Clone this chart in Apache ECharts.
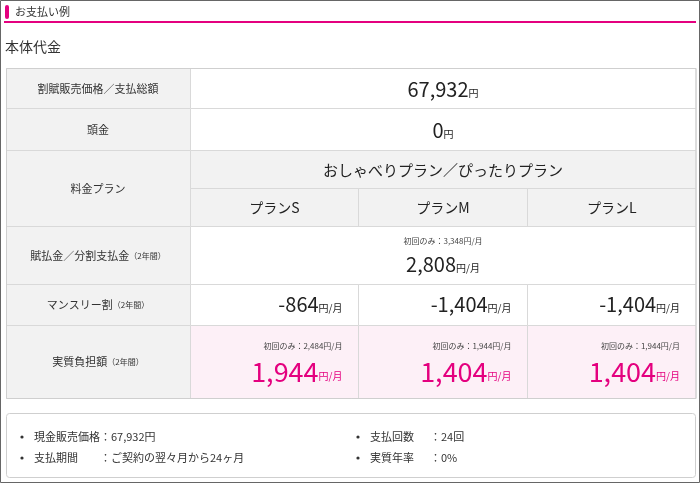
<!DOCTYPE html>
<html><head><meta charset="utf-8">
<script src="https://cdn.jsdelivr.net/npm/echarts@6/dist/echarts.min.js"></script>
<style>html,body{margin:0;padding:0;background:#fff}#c{width:700px;height:483px}</style>
</head><body><div id="c"></div>
<script>
var rowLabels = ['割賦販売価格／支払総額', '頭金', '料金プラン', '賦払金／分割支払金', 'マンスリー割', '実質負担額'];
var totalPrice = '67,932';
var downPayment = '0';
var planGroup = 'おしゃべりプラン／ぴったりプラン';
var planNames = ['プランS', 'プランM', 'プランL'];
var installment = '2,808';
var installmentFirst = '3,348';
var monthlyDiscount = ['-864', '-1,404', '-1,404'];
var actualBurden = ['1,944', '1,404', '1,404'];
var actualFirst = ['2,484', '1,944', '1,944'];
var notesLeft = [['現金販売価格', '67,932円'], ['支払期間', 'ご契約の翌々月から24ヶ月']];
var notesRight = [['支払回数', '24回'], ['実質年率', '0%']];

var FONT = '"Noto Sans CJK JP", "Noto Sans", sans-serif';
var PINK = '#e4007f';
var els = [];
function rect(x, y, w, h, fill, stroke) {
  els.push({type: 'rect', shape: {x: x, y: y, width: w, height: h},
    style: {fill: fill, stroke: stroke || '#d9d9d9', lineWidth: 1}});
}
function text(x, y, s, size, color, align, extra) {
  var o = {type: 'text', x: x, y: y, style: {text: s, font: size + 'px ' + FONT,
    fill: color || '#333', align: align || 'left', verticalAlign: 'middle'}};
  if (extra) for (var k in extra) o.style[k] = extra[k];
  els.push(o);
}
function money(x, y, num, unit, color, size, align) {
  els.push({type: 'text', x: x, y: y, style: {
    text: '{n|' + num + '}{u|' + unit + '}', align: align || 'right', verticalAlign: 'middle',
    rich: {n: {font: size + 'px ' + FONT, fill: color}, u: {font: '10px ' + FONT, fill: color, padding: [8, 0, 0, 0]}}
  }});
}
function label(i, y, h) {
  rect(6.5, y, 184, h, '#f2f2f2');
  var s = rowLabels[i];
  if (i >= 3) s = '{a|' + s + '}{b|（2年間）}';
  els.push({type: 'text', x: 98, y: y + h / 2, style: {text: '{a|' + (i >= 3 ? rowLabels[i] : s) + '}' + (i >= 3 ? '{b|（2年間）}' : ''),
    align: 'center', verticalAlign: 'middle',
    rich: {a: {font: '11px ' + FONT, fill: '#333'}, b: {font: '8px ' + FONT, fill: '#333'}}}});
}

// frame and header
els.push({type: 'rect', shape: {x: 0.5, y: 0.5, width: 699, height: 482}, style: {fill: 'none', stroke: '#666', lineWidth: 1}});
els.push({type: 'rect', shape: {x: 5, y: 5, width: 4, height: 14, r: 2}, style: {fill: PINK}});
text(15, 12, 'お支払い例', 11, '#333');
els.push({type: 'rect', shape: {x: 4, y: 21, width: 692, height: 2}, style: {fill: PINK}});
text(5, 47, '本体代金', 14, '#333');

var cx = [190.5, 358.5, 527.5, 696];
var full = 696 - 190.5;
// row 1
label(0, 68.5, 40); rect(190.5, 68.5, full, 40, '#fff');
money(443, 89, totalPrice, '円', '#222', 20, 'center');
// row 2
label(1, 108.5, 42); rect(190.5, 108.5, full, 42, '#fff');
money(443, 130, downPayment, '円', '#222', 20, 'center');
// plan header
label(2, 150.5, 76); rect(190.5, 150.5, full, 38, '#f2f2f2');
text(443, 170, planGroup, 15, '#222', 'center');
for (var i = 0; i < 3; i++) {
  rect(cx[i], 188.5, cx[i + 1] - cx[i], 38, '#f2f2f2');
  text((cx[i] + cx[i + 1]) / 2, 208, planNames[i], 14, '#222', 'center');
}
// installment
label(3, 226.5, 58); rect(190.5, 226.5, full, 58, '#fff');
text(443, 241, '初回のみ：' + installmentFirst + '円/月', 8, '#444', 'center');
money(443, 264, installment, '円/月', '#222', 20, 'center');
// monthly discount
label(4, 284.5, 41);
for (var i = 0; i < 3; i++) {
  rect(cx[i], 284.5, cx[i + 1] - cx[i], 41, '#fff');
  money(cx[i + 1] - 16, 304, monthlyDiscount[i], '円/月', '#222', 20, 'right');
}
// actual burden
label(5, 325.5, 73);
for (var i = 0; i < 3; i++) {
  rect(cx[i], 325.5, cx[i + 1] - cx[i], 73, '#fdf0f7');
  text(cx[i + 1] - 16, 346, '初回のみ：' + actualFirst[i] + '円/月', 8, '#444', 'right');
  money(cx[i + 1] - 16, 372, actualBurden[i], '円/月', PINK, 27, 'right');
}
els.push({type: 'rect', shape: {x: 6.5, y: 68.5, width: 689.5, height: 330}, style: {fill: 'none', stroke: '#cfcfcf', lineWidth: 1}});

// notes
els.push({type: 'rect', shape: {x: 6.5, y: 413.5, width: 689, height: 64, r: 3}, style: {fill: '#fff', stroke: '#cfcfcf', lineWidth: 1}});
function notes(list, x, keyW) {
  list.forEach(function (n, j) {
    var y = 437 + j * 21;
    els.push({type: 'circle', shape: {cx: x, cy: y, r: 1.6}, style: {fill: '#333'}});
    text(x + 12, y, n[0], 11, '#333');
    text(x + 12 + keyW, y, '：' + n[1], 11, '#333');
  });
}
notes(notesLeft, 22, 66);
notes(notesRight, 358, 60);

var chart = echarts.init(document.getElementById('c'));
chart.setOption({animation: false, graphic: {elements: els}});
</script></body></html>
